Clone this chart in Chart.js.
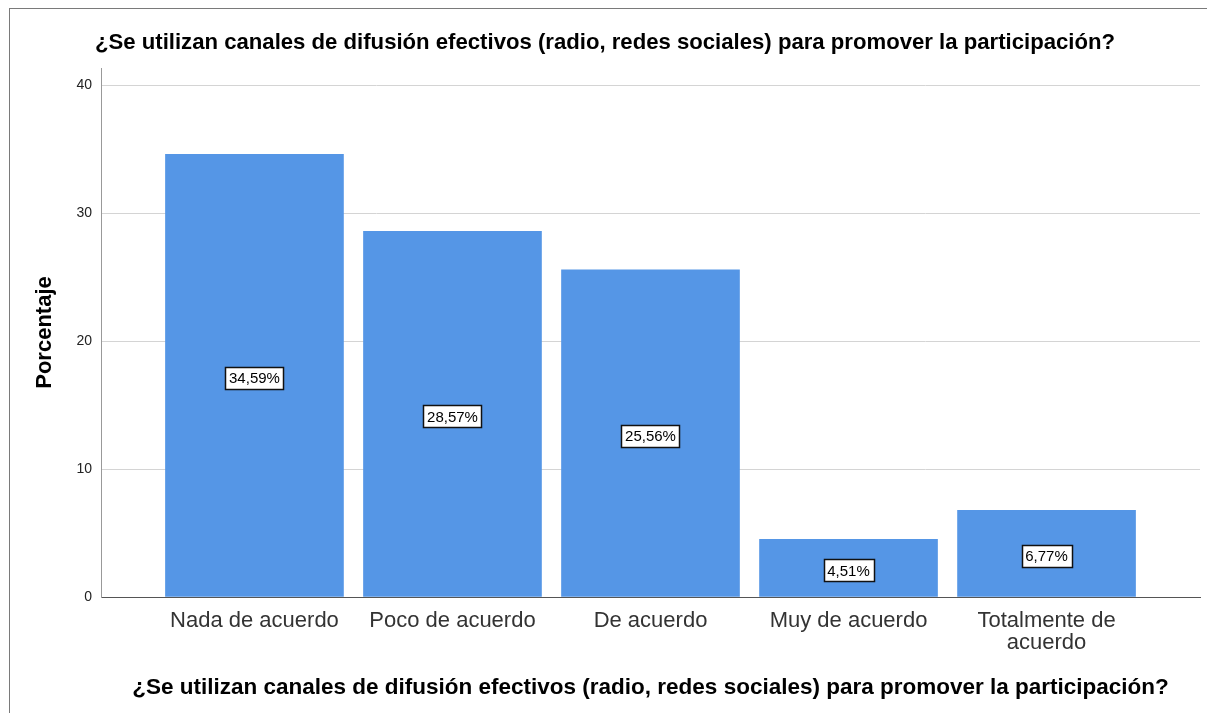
<!DOCTYPE html>
<html>
<head>
<meta charset="utf-8">
<script src="https://cdn.jsdelivr.net/npm/chart.js@4.4.1/dist/chart.umd.min.js"></script>
<style>
  html, body { margin: 0; padding: 0; background: #fff; }
  #wrap { position: relative; width: 1207px; height: 713px; overflow: hidden; }
  #frame { position: absolute; left: 9px; top: 8px; right: 0; bottom: 0; border-left: 1px solid #7a7a7a; border-top: 1px solid #7a7a7a; pointer-events: none; }
  canvas { position: absolute; left: 0; top: 0; }
</style>
</head>
<body>
<div id="wrap">
  <canvas id="c" width="1207" height="713"></canvas>
  <div id="frame"></div>
</div>
<script>
const chartTitle = "¿Se utilizan canales de difusión efectivos (radio, redes sociales) para promover la participación?";
const xAxisTitle = "¿Se utilizan canales de difusión efectivos (radio, redes sociales) para promover la participación?";
const yAxisTitle = "Porcentaje";
const categories = ["Nada de acuerdo", "Poco de acuerdo", "De acuerdo", "Muy de acuerdo", "Totalmente de acuerdo"];
const tickLabels = ["Nada de acuerdo", "Poco de acuerdo", "De acuerdo", "Muy de acuerdo", ["Totalmente de", "acuerdo"]];
const percentages = [34.59, 28.57, 25.56, 4.51, 6.77];
const yTicks = [0, 10, 20, 30, 40];

const FONT = "'Liberation Sans', Arial, sans-serif";

const topTitlePlugin = {
  id: 'topTitle',
  afterDraw(chart) {
    const ctx = chart.ctx;
    ctx.save();
    ctx.font = "bold 22.15px " + FONT;
    ctx.fillStyle = '#000';
    ctx.textBaseline = 'middle';
    ctx.textAlign = 'left';
    ctx.fillText(chartTitle, 95, 43);
    ctx.restore();
  }
};

const valueBoxPlugin = {
  id: 'valueBoxes',
  afterDatasetsDraw(chart) {
    const ctx = chart.ctx;
    const meta = chart.getDatasetMeta(0);
    ctx.save();
    ctx.font = "15px " + FONT;
    ctx.textAlign = 'center';
    ctx.textBaseline = 'middle';
    meta.data.forEach((bar, i) => {
      const txt = percentages[i].toFixed(2).replace('.', ',') + '%';
      const cx = bar.x;
      const cy = (bar.y + bar.base) / 2 + 2.5;
      const w = Math.round(ctx.measureText(txt).width + 7);
      const h = 22;
      const x0 = Math.round(cx - w / 2) + 0.5;
      const y0 = Math.round(cy - h / 2) + 0.5;
      ctx.fillStyle = '#fff';
      ctx.fillRect(x0, y0, w, h);
      ctx.strokeStyle = '#111';
      ctx.lineWidth = 1.5;
      ctx.strokeRect(x0, y0, w, h);
      ctx.fillStyle = '#000';
      ctx.fillText(txt, cx, cy + 1);
    });
    ctx.restore();
  }
};

new Chart(document.getElementById('c'), {
  type: 'bar',
  data: {
    datasets: [{
      data: percentages.map((v, i) => ({ x: i, y: v })),
      backgroundColor: '#5596e6',
      borderWidth: 0,
      barThickness: 178
    }]
  },
  options: {
    responsive: false,
    animation: false,
    devicePixelRatio: 1,
    layout: { padding: { left: 0, right: 7, top: 68, bottom: 0 } },
    plugins: {
      legend: { display: false },
      tooltip: { enabled: false },
      title: { display: false }
    },
    scales: {
      x: {
        type: 'linear',
        offset: false,
        min: -0.775,
        max: 4.775,
        afterBuildTicks(scale) { scale.ticks = categories.map((_, i) => ({ value: i })); },
        afterFit(scale) { scale.height = 116; },
        grid: { display: false, drawTicks: false, offset: false },
        border: { display: true, color: '#555555', width: 1 },
        ticks: {
          autoSkip: false,
          maxRotation: 0,
          padding: 13,
          color: '#333333',
          font: { family: FONT, size: 22, lineHeight: 1.0 },
          callback: (v) => tickLabels[v]
        },
        title: {
          display: true,
          text: xAxisTitle,
          color: '#000',
          font: { family: FONT, size: 22.5, weight: 'bold' },
          padding: { top: 0, bottom: 12 }
        }
      },
      y: {
        min: 0,
        max: 41.33,
        afterBuildTicks(scale) { scale.ticks = yTicks.map(v => ({ value: v })); },
        afterFit(scale) { scale.width = 101; },
        grid: { color: '#d4d4d4', lineWidth: 1, drawTicks: false },
        border: { display: true, color: '#999999', width: 1 },
        ticks: {
          padding: 9,
          color: '#222',
          font: { family: FONT, size: 14 }
        },
        title: {
          display: true,
          text: yAxisTitle,
          color: '#000',
          font: { family: FONT, size: 22, weight: 'bold' },
          padding: { top: 32, bottom: 0 }
        }
      }
    }
  },
  plugins: [topTitlePlugin, valueBoxPlugin]
});
</script>
</body>
</html>
